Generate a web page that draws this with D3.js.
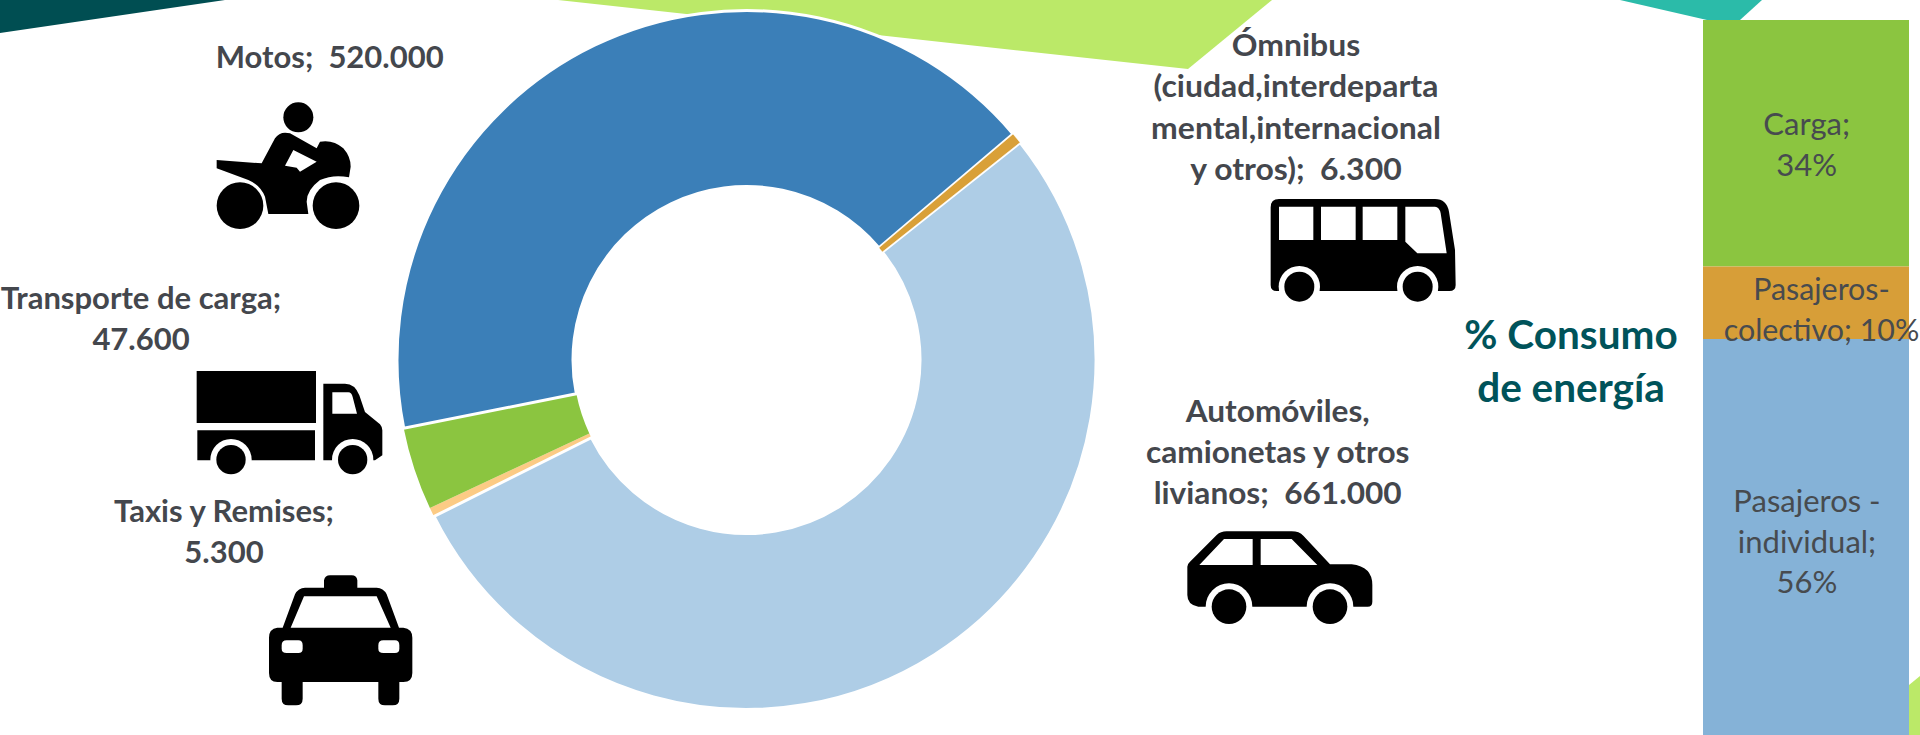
<!DOCTYPE html>
<html><head><meta charset="utf-8">
<script src="https://cdn.jsdelivr.net/npm/d3@7/dist/d3.min.js"></script>
<style>html,body{margin:0;padding:0;background:#fff;overflow:hidden}svg{display:block}text{font-family:Lato,"Open Sans",sans-serif}</style>
</head><body><svg id="c" width="1920" height="735"></svg>
<script>
// ---- data ----
const vehicleNames = ["Ómnibus","Automóviles","Taxis y Remises","Transporte de carga","Motos"];
const vehicleValues = [6300,661000,5300,47600,520000];
const vehicleColors = ["#D9A038","#AECDE6","#FCCB85","#8BC540","#3B7FB8"];
const vehicleLabelLines = [
  ["Ómnibus","(ciudad,interdeparta","mental,internacional","y otros);  6.300"],
  ["Automóviles,","camionetas y otros","livianos;  661.000"],
  ["Taxis y Remises;","5.300"],
  ["Transporte de carga;","47.600"],
  ["Motos;  520.000"]
];
const energyNames = ["Carga","Pasajeros-colectivo","Pasajeros - individual"];
const energyValues = [34,10,56];
const energyColors = ["#8BC540","#D79E38","#85B2D7"];
const energyLabelLines = [["Carga;","34%"],["Pasajeros-","colectivo; 10%"],["Pasajeros -","individual;","56%"]];
const energyTitle = ["% Consumo","de energía"];

// ---- layout ----
const svg = d3.select("#c");
const cx = 746.5, cy = 360, R = 349.5, r = 173.5;
const startDeg = 49.7;
const sliceStroke = [0.6,3,0,0,3];
const sliceOrder = [2,3,4,1,0];
const labelX = [1296,1277.7,224,141,329.7];
const labelY = [56,421.7,522,309,68];
const labelStep = 41.4;
const labelFont = 31;
const labelScaleX = [1.03,1.02,1,1,1];
const barX = d3.scaleBand().domain(["energy"]).range([1703,1909]);
const barY = d3.scaleLinear().domain([0,100]).range([20,745]);
const barLabelX = [1806.7,1821.5,1807];
const barLabelY = [135,300,512];
const barLabelScaleX = [1,0.98,1];

// ---- decorative background ----
const bg = [
  {c:"#004E52",p:[[0,33],[225,0],[0,0]]},
  {c:"#BBE968",p:[[558,0],[1188,69],[1272,0]]},
  {c:"#2BBBA9",p:[[1620,0],[1707,20],[1740,20],[1762,0]]},
  {c:"#BBE968",p:[[1909,685],[1920,676],[1920,735],[1909,735]]}
];
svg.selectAll("polygon.bg").data(bg).join("polygon").attr("class","bg")
  .attr("points",d=>d.p.join(" ")).attr("fill",d=>d.c);

// ---- donut ----
const pie = d3.pie().sort(null).startAngle(startDeg*Math.PI/180).endAngle((startDeg+360)*Math.PI/180);
const arc = d3.arc().innerRadius(r).outerRadius(R);
const slices = pie(vehicleValues);
svg.append("g").attr("transform",`translate(${cx},${cy})`)
  .selectAll("path").data(sliceOrder).join("path")
  .attr("d",i=>arc(slices[i])).attr("fill",i=>vehicleColors[i])
  .attr("stroke",i=>sliceStroke[i]?"#fff":"none").attr("stroke-width",i=>sliceStroke[i]);

// ---- stacked bar ----
const stack = d3.stack().keys(energyNames)([Object.fromEntries(energyNames.map((n,i)=>[n,energyValues[i]]))]);
svg.append("g").selectAll("rect").data(stack).join("rect")
  .attr("x",barX("energy")).attr("width",barX.bandwidth())
  .attr("y",d=>barY(d[0][0])).attr("height",d=>barY(d[0][1])-barY(d[0][0]))
  .attr("fill",(d,i)=>energyColors[i]);

// ---- labels ----
function multi(sel, x, y, lines, step, attrs){
  const g = sel.append("text").attr("text-anchor","middle").attr("xml:space","preserve");
  for(const k in attrs) g.attr(k,attrs[k]);
  lines.forEach((l,j)=>g.append("tspan").attr("x",x).attr("y",y+j*step).text(l));
  return g;
}
vehicleLabelLines.forEach((lines,i)=>{
  const g = svg.append("g").attr("transform",`translate(${labelX[i]},0) scale(${labelScaleX[i]},1)`);
  multi(g,0,labelY[i],lines,labelStep,{"font-size":labelFont,"font-weight":700,fill:"#44474D"});
});
energyLabelLines.forEach((lines,i)=>{
  const g = svg.append("g").attr("transform",`translate(${barLabelX[i]},0) scale(${barLabelScaleX[i]},1)`);
  multi(g,0,barLabelY[i],lines,i===2?40.7:41,{"font-size":labelFont,"font-weight":400,fill:"#474B4F"});
});
multi(svg,1571,348.5,energyTitle,53,{"font-size":40.5,"font-weight":700,fill:"#00535A"});

// ---- icons (drawn in 3x-crop units) ----
const icons = [
 {t:[0,0],d:"M650 480L785 490L825 415Q840 392 870 400L950 445L960 425Q1000 418 1030 445Q1052 470 1052 500L1047 532Q1000 522 960 540Q920 570 920 605L925 642L805 642L795 590Q780 555 745 540L650 505Z M880 450L950 485L900 515L890 503L855 497Z",
  w:[[720,617,0,70],[1008,617,0,70]],c:[[895,352,45]]},
 {t:[0,367],d:"M590 12H948V168H590Z M592 190H945V280H592Z M970 50H1035Q1065 50 1078 85L1095 135L1140 172Q1147 180 1147 190V265L1125 280H970Z M997 76H1045Q1055 76 1058 90L1071 140H997Z",
  w:[[693,278,62,44],[1058,278,62,44]],c:[]},
 {t:[0,367],d:"M972 662V640Q975 625 990 625H1055Q1070 625 1072 640V662H1130Q1150 662 1160 682L1197 782H1210Q1237 785 1237 812V918Q1237 945 1210 945H1198V995Q1198 1015 1178 1015H1155Q1135 1015 1135 995V945H908V995Q908 1015 888 1015H865Q845 1015 845 995V945H832Q807 945 807 918V812Q807 785 832 782H848L885 682Q895 662 915 662Z M912 688H1130L1172 782H872Z M860 820H895Q908 820 908 835V845Q908 858 895 858H860Q845 858 845 845V835Q845 820 860 820Z M1150 820H1185Q1198 820 1198 835V845Q1198 858 1185 858H1150Q1135 858 1135 845V835Q1135 820 1150 820Z",
  w:[],c:[]},
 {t:[1100,0],d:"M512 622Q512 597 537 597H1005Q1040 597 1047 635L1065 750L1067 855Q1067 873 1048 873H530Q512 873 512 855Z M537 620H640V720H537Z M663 620H767V720H663Z M788 620H892V720H788Z M916 620H1005Q1018 620 1022 640L1040 760H952L916 725Z",
  w:[[598,860,62,45],[953,860,62,45]],c:[]},
 {t:[1100,370],d:"M262 590Q262 582 270 575L350 495Q362 484 380 484H575Q598 484 610 497L690 583H755Q817 590 817 645V695Q817 710 803 710H295Q262 705 262 675Z M298 585L372 507H458V585Z M482 507H575L652 585H482Z",
  w:[[387,710,70,52],[690,710,70,52]],c:[]}
];
icons.forEach(ic=>{
  const g = svg.append("g").attr("transform",`translate(${ic.t[0]},${ic.t[1]}) scale(${1/3})`);
  g.append("path").attr("d",ic.d).attr("fill","#000").attr("fill-rule","evenodd");
  ic.c.forEach(c=>g.append("circle").attr("cx",c[0]).attr("cy",c[1]).attr("r",c[2]).attr("fill","#000"));
  ic.w.forEach(w=>{
    if(w[2]) g.append("circle").attr("cx",w[0]).attr("cy",w[1]).attr("r",w[2]).attr("fill","#fff");
    g.append("circle").attr("cx",w[0]).attr("cy",w[1]).attr("r",w[3]).attr("fill","#000");
  });
});
</script></body></html>
